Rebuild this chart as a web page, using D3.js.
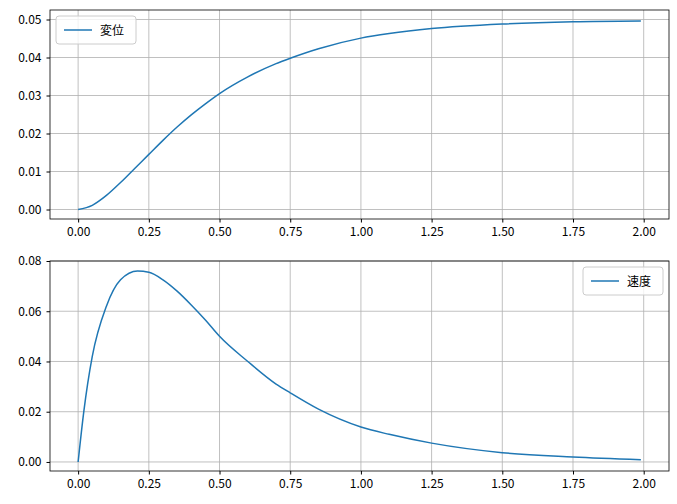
<!DOCTYPE html><html><head><meta charset="utf-8">
<script src="https://cdn.jsdelivr.net/npm/d3@7"></script>
<style>body{margin:0;background:#fff}text{font-family:"Noto Sans CJK JP",sans-serif}</style></head><body>
<svg id="c" width="677" height="504"></svg>
<script>
const tX=[0,0.05,0.1,0.15,0.2,0.25,0.3,0.35,0.4,0.45,0.5,0.6,0.7,0.75,0.85,1.0,1.1,1.25,1.5,1.75,1.99];
const disp=[0,0.0011,0.0037,0.0071,0.0108,0.0145,0.0182,0.0217,0.0249,0.0278,0.0305,0.0349,0.0384,0.0398,0.0423,0.0451,0.0463,0.0476,0.0488,0.0494,0.0496];
const tV=[0,0.02,0.05,0.1,0.15,0.21,0.25,0.3,0.35,0.4,0.45,0.5,0.6,0.7,0.75,0.85,1.0,1.1,1.25,1.5,1.75,1.99];
const vel=[0,0.02,0.042,0.062,0.0725,0.076,0.0755,0.0725,0.068,0.0625,0.0565,0.050,0.0400,0.031,0.0275,0.021,0.0139,0.011,0.0075,0.0037,0.002,0.0009];
const xTicks=[0,0.25,0.5,0.75,1,1.25,1.5,1.75,2];
const svg=d3.select("#c");
function panel(top,bottom,ts,vs,yMin,yMax,yTicks,label,legendRight){
  const L=50,R=669;
  const x=d3.scaleLinear().domain([-0.0995,2.0895]).range([L,R]);
  const y=d3.scaleLinear().domain([yMin,yMax]).range([bottom,top]);
  const g=svg.append("g");
  xTicks.forEach(t=>g.append("line").attr("x1",x(t)).attr("x2",x(t)).attr("y1",top).attr("y2",bottom).attr("stroke","#b0b0b0").attr("stroke-width",0.8));
  yTicks.forEach(t=>g.append("line").attr("x1",L).attr("x2",R).attr("y1",y(t)).attr("y2",y(t)).attr("stroke","#b0b0b0").attr("stroke-width",0.8));
  g.append("path").datum(ts.map((t,i)=>[t,vs[i]])).attr("fill","none").attr("stroke","#1f77b4").attr("stroke-width",1.5)
   .attr("d",d3.line().x(d=>x(d[0])).y(d=>y(d[1])).curve(d3.curveMonotoneX));
  const ax=g.append("g").attr("transform",`translate(0,${bottom})`).call(d3.axisBottom(x).tickValues(xTicks).tickFormat(d3.format(".2f")).tickSizeOuter(0).tickSize(3.5).tickPadding(5));
  const ay=g.append("g").attr("transform",`translate(${L},0)`).call(d3.axisLeft(y).tickValues(yTicks).tickFormat(d3.format(".2f")).tickSizeOuter(0).tickSize(3.5).tickPadding(5));
  [ax,ay].forEach(a=>{a.select(".domain").remove();a.selectAll("text").attr("font-size",12).attr("fill","#000").style("font-family","'Noto Sans CJK JP'");});
  g.append("rect").attr("x",L).attr("y",top).attr("width",R-L).attr("height",bottom-top).attr("fill","none").attr("stroke","#000").attr("stroke-width",0.8);
  const lw=80,lx=legendRight?R-lw-6:L+6,ly=top+6;
  g.append("rect").attr("x",lx).attr("y",ly).attr("width",lw).attr("height",28).attr("rx",3).attr("fill","#fff").attr("fill-opacity",0.8).attr("stroke","#ccc");
  g.append("line").attr("x1",lx+8).attr("x2",lx+36).attr("y1",ly+14).attr("y2",ly+14).attr("stroke","#1f77b4").attr("stroke-width",1.5);
  g.append("text").attr("x",lx+44).attr("y",ly+18.5).attr("font-size",12).text(label);
}
panel(10,219,tX,disp,-0.0025,0.0525,[0,0.01,0.02,0.03,0.04,0.05],"変位",false);
panel(261,471,tV,vel,-0.0036,0.08,[0,0.02,0.04,0.06,0.08],"速度",true);
</script></body></html>
